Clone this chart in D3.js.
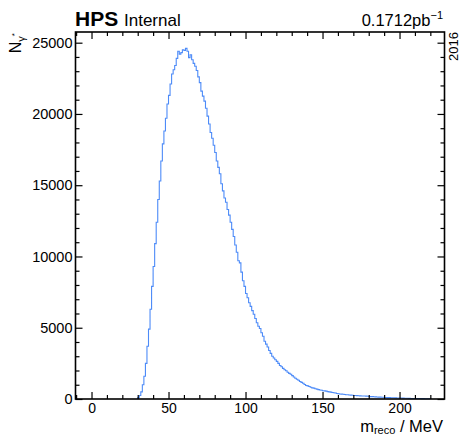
<!DOCTYPE html>
<html>
<head>
<meta charset="utf-8">
<script src="https://cdn.jsdelivr.net/npm/d3@7"></script>
<style>
  body { margin: 0; background: #fff; }
  svg text { font-family: "Liberation Sans", Arial, Helvetica, sans-serif; fill: #000; }
</style>
</head>
<body>
<svg id="chart" width="461" height="436"></svg>
<script>
// Histogram of reconstructed mass, 1 MeV bins starting at 30 MeV
const binLow = 30;
const binWidth = 1;
const counts = [
  100, 250, 500, 1000, 1600, 2500, 3700, 4900, 6300, 7900,          // 30-39
  9300, 10900, 12400, 14000, 15300, 16700, 17900, 18800, 19700, 20700, // 40-49
  21300, 22100, 22800, 23100, 23400, 23900, 24400, 24200, 24300, 24500, // 50-59
  24450, 24600, 24400, 23950, 24150, 23800, 23550, 23350, 23050, 22600, // 60-69
  22200, 21600, 21250, 20900, 20400, 19850, 19300, 18700, 18300, 17800, // 70-79
  17300, 16700, 16250, 15800, 15100, 14600, 14100, 13800, 13300, 12900, // 80-89
  12400, 11900, 11400, 10800, 10300, 9700, 9550, 8900, 8300, 7900,      // 90-99
  7400, 7100, 6750, 6500, 6200, 5950, 5650, 5350, 5100, 4950,           // 100-109
  4650, 4400, 4050, 3850, 3650, 3400, 3200, 3000, 2880, 2750,           // 110-119
  2640, 2500, 2350, 2260, 2150, 2050, 1980, 1880, 1800, 1740,           // 120-129
  1640, 1540, 1460, 1390, 1320, 1230, 1170, 1110, 1020, 950,            // 130-139
  920, 880, 820, 780, 760, 720, 690, 660, 630, 610,                     // 140-149
  580, 570, 550, 520, 500, 480, 460, 440, 420, 390,                     // 150-159
  370, 350, 340, 330, 320, 300, 300, 280, 275, 260,                     // 160-169
  250, 245, 235, 230, 220, 215, 210, 210, 200, 190,                     // 170-179
  180, 170, 165, 160, 150, 140, 135, 130, 125, 120,                     // 180-189
  110, 105, 100, 95, 90, 85, 85, 80, 75, 70,                            // 190-199
  70, 65, 60, 55, 55, 50, 45, 40, 40, 35,                               // 200-209
  35, 30, 30, 30, 25, 25, 20, 20, 20, 15                                // 210-219
];

const xDomain = [-10.4, 229.2];
const yDomain = [0, 25750];
const xMajorTicks = [0, 50, 100, 150, 200];
const xMinorTicks = [-10, 10, 20, 30, 40, 60, 70, 80, 90, 110, 120, 130, 140, 160, 170, 180, 190, 210, 220];
const yMajorTicks = [0, 5000, 10000, 15000, 20000, 25000];
const yMinorTicks = d3.range(1000, 25001, 1000).filter(v => v % 5000 !== 0);

const lineColor = '#4d8bf8';

const svg = d3.select('#chart');
const frame = { left: 75.5, right: 444.5, top: 32, bottom: 399 };

const x = d3.scaleLinear().domain(xDomain).range([frame.left, frame.right]);
const y = d3.scaleLinear().domain(yDomain).range([frame.bottom, frame.top]);

// Histogram outline (step line)
const pts = [{ e: binLow, v: 0 }];
counts.forEach((c, i) => pts.push({ e: binLow + i * binWidth, v: c }));
pts.push({ e: binLow + counts.length * binWidth, v: counts[counts.length - 1] });
pts.push({ e: binLow + counts.length * binWidth, v: 0 });

const step = d3.line()
  .x(d => x(d.e))
  .y(d => y(d.v))
  .curve(d3.curveStepAfter);

svg.append('path')
  .datum(pts)
  .attr('d', step)
  .attr('fill', 'none')
  .attr('stroke', lineColor)
  .attr('stroke-width', 1.1);

// Axes: major + minor ticks on all four sides
function addAxis(gen, tx, ty, ticks, size, labels, fs) {
  const g = svg.append('g').attr('transform', `translate(${tx},${ty})`)
    .call(gen.tickValues(ticks).tickSize(size).tickPadding(labels ? labels : 0)
      .tickFormat(labels ? d3.format('d') : ''));
  g.select('.domain').remove();
  g.selectAll('line').attr('stroke', '#000').attr('stroke-width', 1.2);
  g.selectAll('text').attr('font-size', fs || 14.5).attr('fill', '#000')
    .style('font-family', '"Liberation Sans", Arial, sans-serif');
  return g;
}

addAxis(d3.axisBottom(x), 0, frame.bottom, xMajorTicks, -7, 4.5, 14);
addAxis(d3.axisBottom(x), 0, frame.bottom, xMinorTicks, -4, null);
addAxis(d3.axisTop(x), 0, frame.top, xMajorTicks, -7, null);
addAxis(d3.axisTop(x), 0, frame.top, xMinorTicks, -4, null);
addAxis(d3.axisLeft(y), frame.left, 0, yMajorTicks, -7, 3);
addAxis(d3.axisLeft(y), frame.left, 0, yMinorTicks, -4, null);
addAxis(d3.axisRight(y), frame.right, 0, yMajorTicks, -7, null);
addAxis(d3.axisRight(y), frame.right, 0, yMinorTicks, -4, null);

// Frame
svg.append('rect')
  .attr('x', frame.left).attr('y', frame.top)
  .attr('width', frame.right - frame.left).attr('height', frame.bottom - frame.top)
  .attr('fill', 'none').attr('stroke', '#000').attr('stroke-width', 1.6);

// X title
const xt = svg.append('text')
  .attr('x', 443).attr('y', 432)
  .attr('text-anchor', 'end')
  .attr('font-size', 16.5);
xt.append('tspan').text('m');
xt.append('tspan').attr('font-size', 11).attr('dy', 2).text('reco');
xt.append('tspan').attr('dy', -2).text(' / MeV');

// Y title
const yt = svg.append('text')
  .attr('transform', 'translate(21,33) rotate(-90)')
  .attr('text-anchor', 'end')
  .attr('font-size', 16);
yt.append('tspan').text('N');
yt.append('tspan').attr('font-size', 11).attr('dy', 4).text('γ');
yt.append('tspan').attr('font-size', 8).attr('dy', -8).text('*');

// Header
svg.append('text')
  .attr('x', 75).attr('y', 25.5)
  .attr('font-size', 21).attr('font-weight', 'bold')
  .text('HPS');
svg.append('text')
  .attr('x', 124).attr('y', 25.5)
  .attr('font-size', 17)
  .text('Internal');

const lumi = svg.append('text')
  .attr('x', 443).attr('y', 25.5)
  .attr('text-anchor', 'end')
  .attr('font-size', 16.5);
lumi.append('tspan').text('0.1712pb');
lumi.append('tspan').attr('font-size', 11).attr('dy', -7).text('−1');

svg.append('text')
  .attr('transform', 'translate(458,32) rotate(-90)')
  .attr('text-anchor', 'end')
  .attr('font-size', 13)
  .text('2016');
</script>
</body>
</html>
